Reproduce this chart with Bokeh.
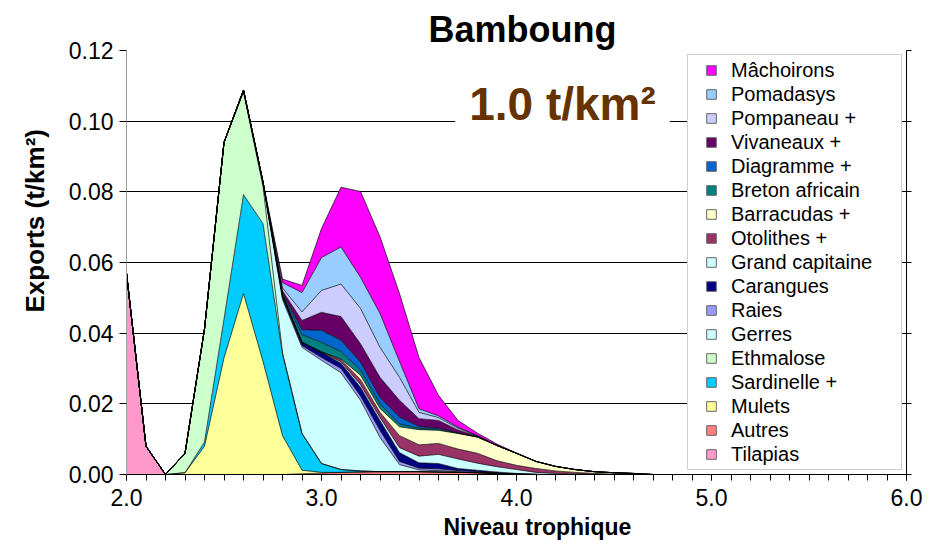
from bokeh.plotting import figure
from bokeh.models import (ColumnDataSource, Range1d, LinearAxis, Legend, LegendItem, Title,
                          NumeralTickFormatter, SingleIntervalTicker, Label, CustomJSTickFormatter)
from bokeh.embed import file_html
from bokeh.resources import INLINE

# Trophic levels (x categories)
niveau = [2.0, 2.1, 2.2, 2.3, 2.4, 2.5, 2.6, 2.7, 2.8, 2.9, 3.0, 3.1, 3.2, 3.3,
          3.4, 3.5, 3.6, 3.7, 3.8, 3.9, 4.0, 4.1, 4.2, 4.3, 4.4, 4.5, 4.6, 4.7]

# Exports (t/km2) per species group, stacking order bottom -> top
tilapias = [0.057, 0.008, 0, 0, 0, 0, 0, 0, 0, 0, 0, 0, 0, 0,
            0, 0, 0, 0, 0, 0, 0, 0, 0, 0, 0, 0, 0, 0]
autres = [0, 0, 0, 0, 0, 0, 0, 0, 0, 0.0002, 0.0004, 0.0006, 0.0007, 0.0008,
          0.0008, 0.0008, 0.0007, 0.0006, 0.0005, 0.0003, 0.0001, 0, 0, 0, 0, 0, 0, 0]
mulets = [0, 0, 0, 0.0005, 0.008, 0.033, 0.0512, 0.032, 0.011, 0.001, 0.0002, 0, 0, 0,
          0, 0, 0, 0, 0, 0, 0, 0, 0, 0, 0, 0, 0, 0]
sardinelle = [0, 0, 0, 0, 0.0012, 0.011, 0.028, 0.039, 0.023, 0.0104, 0.0025, 0.0008, 0.0003, 0,
              0, 0, 0, 0, 0, 0, 0, 0, 0, 0, 0, 0, 0, 0]
ethmalose = [0, 0, 0, 0.0055, 0.032, 0.050, 0.029, 0.0105, 0.0005, 0, 0, 0, 0, 0,
             0, 0, 0, 0, 0, 0, 0, 0, 0, 0, 0, 0, 0, 0]
gerres = [0, 0, 0, 0, 0, 0, 0.0003, 0.0008, 0.015, 0.0244, 0.0292, 0.0274, 0.020, 0.0097,
          0.002, 0.0005, 0.0004, 0.0002, 0.0001, 0, 0, 0, 0, 0, 0, 0, 0, 0]
raies = [0, 0, 0, 0, 0, 0, 0.0001, 0.0002, 0.0005, 0.0005, 0.0008, 0.0012, 0.0012, 0.002,
         0.0009, 0.0005, 0.0005, 0.0003, 0.0002, 0.0001, 0, 0, 0, 0, 0, 0, 0, 0]
carangues = [0, 0, 0, 0, 0, 0, 0.0002, 0.0003, 0.0007, 0.0009, 0.0014, 0.0015, 0.0025, 0.0028,
             0.0025, 0.0015, 0.0015, 0.0006, 0.0004, 0.0003, 0.0002, 0.0001, 0, 0, 0, 0, 0, 0]
grand_capitaine = [0, 0, 0, 0, 0, 0, 0, 0, 0, 0, 0, 0.0004, 0.0007, 0.0008,
                   0.0014, 0.0019, 0.0026, 0.0027, 0.002, 0.0015, 0.0011, 0.0005, 0.0003, 0.0002, 0.0001, 0, 0, 0]
otolithes = [0, 0, 0, 0, 0, 0, 0, 0, 0, 0, 0.0002, 0.0006, 0.0015, 0.0015,
             0.0034, 0.0032, 0.0031, 0.0028, 0.0028, 0.0017, 0.0012, 0.0011, 0.0007, 0.0004, 0.0002, 0.0001, 0, 0]
barracudas = [0, 0, 0, 0, 0, 0, 0, 0, 0, 0, 0, 0.0002, 0.0012, 0.0011,
              0.0025, 0.0043, 0.0037, 0.0044, 0.0046, 0.0043, 0.0034, 0.002, 0.0013, 0.0008, 0.0005, 0.0004, 0.0003, 0]
breton = [0, 0, 0, 0, 0, 0, 0, 0, 0.0003, 0.0022, 0.0027, 0.0021, 0.0015, 0.0013,
          0.0008, 0.0004, 0.0003, 0.0001, 0, 0, 0, 0, 0, 0, 0, 0, 0, 0]
diagramme = [0, 0, 0, 0, 0, 0, 0, 0, 0.0004, 0.0014, 0.0034, 0.0032, 0.0022, 0.0018,
             0.002, 0.0005, 0.0003, 0.0001, 0, 0, 0, 0, 0, 0, 0, 0, 0, 0]
vivaneaux = [0, 0, 0, 0, 0, 0, 0, 0, 0.0006, 0.0026, 0.0051, 0.0067, 0.0052, 0.0057,
             0.0047, 0.0022, 0.0022, 0.0008, 0.0002, 0, 0, 0, 0, 0, 0, 0, 0, 0]
pompaneau = [0, 0, 0, 0, 0, 0, 0, 0, 0.0008, 0.0024, 0.0062, 0.0092, 0.0100, 0.0085,
             0.0065, 0.0018, 0.0008, 0.0005, 0.0001, 0, 0, 0, 0, 0, 0, 0, 0, 0]
pomadasys = [0, 0, 0, 0, 0, 0, 0, 0, 0.0015, 0.0055, 0.0093, 0.0105, 0.0088, 0.0096,
             0.0045, 0.001, 0.0005, 0.0003, 0.0001, 0, 0, 0, 0, 0, 0, 0, 0, 0]
machoirons = [0, 0, 0, 0, 0, 0, 0, 0, 0.001, 0.002, 0.0082, 0.0169, 0.0243, 0.0217,
              0.0192, 0.0145, 0.0058, 0.0019, 0.0007, 0.0004, 0.0001, 0, 0, 0, 0, 0, 0, 0]

noms = ["Tilapias", "Autres", "Mulets", "Sardinelle +", "Ethmalose", "Gerres", "Raies",
        "Carangues", "Grand capitaine", "Otolithes +", "Barracudas +", "Breton africain",
        "Diagramme +", "Vivaneaux +", "Pompaneau +", "Pomadasys", "Mâchoirons"]
series = [tilapias, autres, mulets, sardinelle, ethmalose, gerres, raies, carangues,
          grand_capitaine, otolithes, barracudas, breton, diagramme, vivaneaux,
          pompaneau, pomadasys, machoirons]
couleurs = ["#FF99CC", "#FF8080", "#FFFF99", "#00CCFF", "#CCFFCC", "#CCFFFF", "#9999FF",
            "#000080", "#CCFFFF", "#993366", "#FFFFCC", "#008080", "#0066CC", "#660066",
            "#CCCCFF", "#99CCFF", "#FF00FF"]

titre = "Bamboung"
label_x = "Niveau trophique"
label_y = "Exports (t/km²)"
annotation = "1.0 t/km²"

FONT = "Liberation Sans"

keys = ["s%d" % i for i in range(len(series))]
data = {"x": niveau}
for k, s in zip(keys, series):
    data[k] = s
src = ColumnDataSource(data)

p = figure(width=944, height=550, output_backend="svg", toolbar_location=None,
           x_range=Range1d(2.0, 6.0), y_range=Range1d(0, 0.12),
           min_border_left=126, min_border_right=38, min_border_top=50, min_border_bottom=76)
p.background_fill_color = "white"
p.border_fill_color = "white"
p.outline_line_color = None

p.varea_stack(stackers=keys, x="x", color=couleurs, source=src)
p.vline_stack(stackers=keys, x="x", color="black", line_width=0.8, line_alpha=0.85, source=src)

# Title
p.title.text = titre
p.title.align = "left"
p.title.offset = 302
p.title.standoff = 2
p.title.text_line_height = 1.0
p.title.text_font = FONT
p.title.text_font_size = "36px"
p.title.text_font_style = "bold"
p.title.text_color = "black"

# Axes
p.xaxis.ticker = SingleIntervalTicker(interval=1.0, num_minor_ticks=10)
p.xaxis.formatter = NumeralTickFormatter(format="0.0")
p.xaxis.major_tick_out = 6
p.xaxis.major_tick_in = 0
p.xaxis.minor_tick_out = 6
p.xaxis.minor_tick_in = 0
p.xaxis.axis_line_color = "black"
p.xaxis.major_tick_line_color = "black"
p.xaxis.minor_tick_line_color = "black"

p.yaxis.ticker = SingleIntervalTicker(interval=0.02, num_minor_ticks=0)
p.yaxis.formatter = NumeralTickFormatter(format="0.00")
p.yaxis.major_tick_out = 7
p.yaxis.major_tick_in = 0
p.yaxis.axis_line_color = "#a0a0a0"
p.yaxis.major_tick_line_color = "black"

for ax in (p.xaxis[0], p.yaxis[0]):
    ax.major_label_text_font = FONT
    ax.major_label_text_font_size = "23px"
    ax.major_label_text_color = "black"
p.xaxis.major_label_standoff = 8
p.yaxis.major_label_standoff = 6

right = LinearAxis(ticker=SingleIntervalTicker(interval=0.02, num_minor_ticks=0),
                   formatter=CustomJSTickFormatter(code="return ''"),
                   major_tick_out=5, major_tick_in=0, axis_line_color="black",
                   major_tick_line_color="black")
p.add_layout(right, "right")

p.xgrid.visible = False
p.ygrid.ticker = SingleIntervalTicker(interval=0.02, num_minor_ticks=0)
p.ygrid.grid_line_color = "black"
p.ygrid.grid_line_width = 1

# Axis titles (as side titles so they can be offset like in the reference)
p.add_layout(Title(text=label_x, align="left", offset=317, standoff=6,
                   text_font=FONT, text_font_size="23px", text_font_style="bold",
                   text_color="black"), "below")
p.add_layout(Title(text=label_y, align="left", offset=162, standoff=31,
                   text_font=FONT, text_font_size="26px", text_font_style="bold",
                   text_color="black"), "left")

# Annotation
p.add_layout(Label(x=4.236, y=0.105, text=annotation, text_align="center",
                   text_baseline="middle", text_font=FONT, text_font_size="46px",
                   text_font_style="bold", text_color="#663300",
                   background_fill_color="white", padding=14))

# Legend (square markers, listed top series first)
items = []
for nom, c in reversed(list(zip(noms, couleurs))):
    r = p.scatter(x=[float("nan")], y=[float("nan")], marker="square", fill_color=c,
                  line_color="#666666", line_width=1)
    items.append(LegendItem(label=nom, renderers=[r]))
legend = Legend(items=items, location=(561, 4), padding=3, spacing=0, margin=0,
                glyph_width=40, glyph_height=24, label_height=20, label_width=167,
                label_standoff=0, label_text_font=FONT, label_text_font_size="20px",
                label_text_color="black", border_line_color="#a0a0a0", border_line_width=1,
                background_fill_color="white", background_fill_alpha=1)
p.add_layout(legend)

open("out.html", "w").write(file_html(p, INLINE))
